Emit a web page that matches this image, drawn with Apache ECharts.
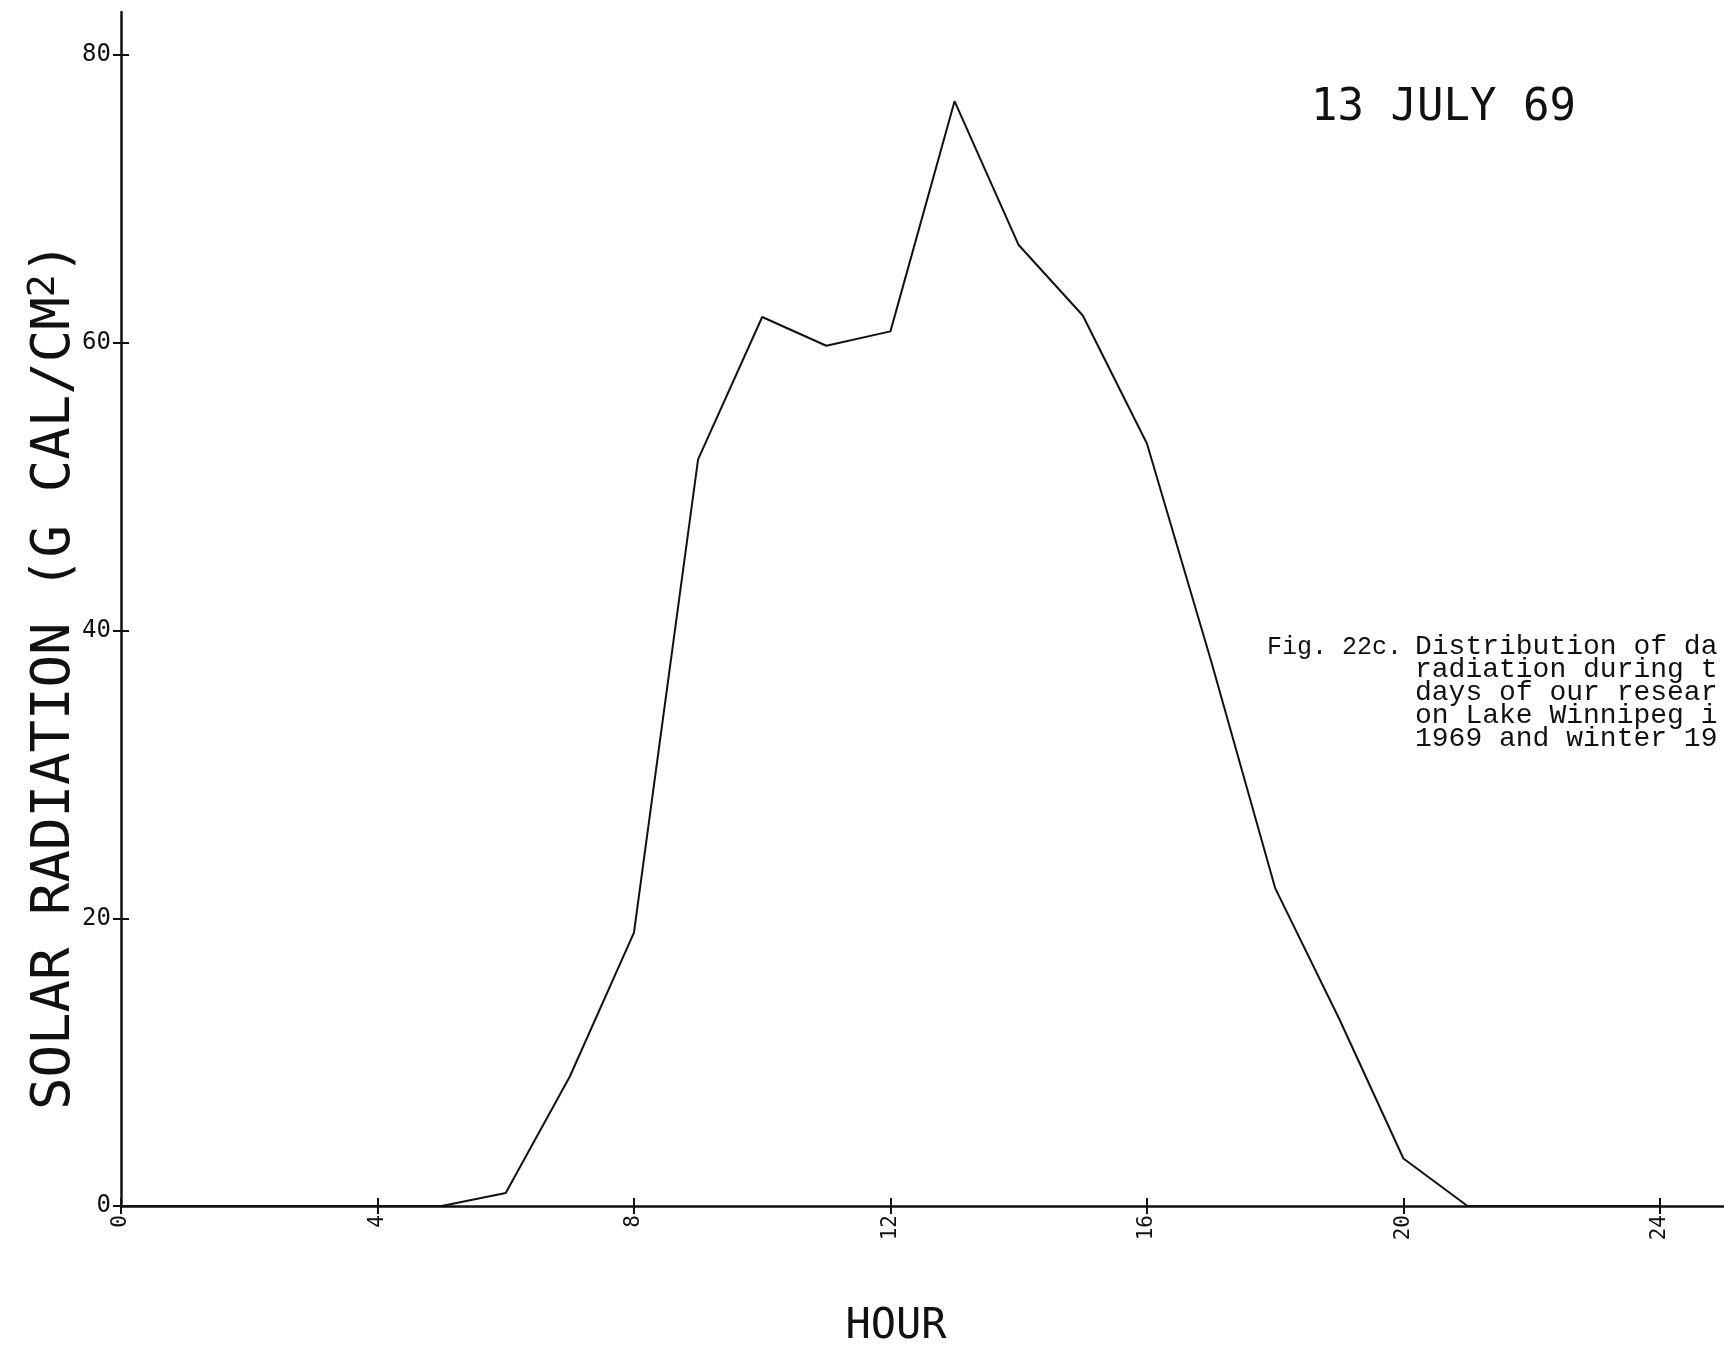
<!DOCTYPE html>
<html>
<head>
<meta charset="utf-8">
<script src="https://cdn.jsdelivr.net/npm/echarts@6/dist/echarts.min.js"></script>
<style>
html, body { margin: 0; padding: 0; background: #fff; }
#main { width: 1724px; height: 1347px; }
</style>
</head>
<body>
<div id="main"></div>
<script>
// hourly solar radiation, 13 July 1969 (g cal/cm2)
var hours = [0, 1, 2, 3, 4, 5, 6, 7, 8, 9, 10, 11, 12, 13, 14, 15, 16, 17, 18, 19, 20, 21, 22, 23, 24];
var radiation = [0, 0, 0, 0, 0, 0, 0.9, 9, 19, 51.9, 61.8, 59.8, 60.8, 76.8, 66.8, 61.9, 53.0, 37.9, 22.1, 13.0, 3.3, 0, 0, 0, 0];
var xTicks = [0, 4, 8, 12, 16, 20, 24];
var yTicks = [0, 20, 40, 60, 80];
var captionLines = [
    'Distribution of da',
    'radiation during t',
    'days of our resear',
    'on Lake Winnipeg i',
    '1969 and winter 19'
];

var plotFont = 'DejaVu Sans Mono';
var ink = '#111';

var myChart = echarts.init(document.getElementById('main'));
var points = hours.map(function (h, i) {
    return [h, radiation[i]];
});

var gridBox = { left: 121, right: 0, top: 12, bottom: 141, containLabel: false, outerBoundsMode: 'none' };
var tickStyle = { color: ink, width: 2 };

option = {
    backgroundColor: '#fff',
    animation: false,
    title: [
        {
            text: '13 JULY 69',
            left: 1306,
            top: 82,
            textStyle: { fontFamily: plotFont, fontSize: 44, fontWeight: 'normal', color: ink }
        },
        {
            text: 'Fig. 22c.',
            left: 1262,
            top: 630,
            textStyle: { fontFamily: 'Liberation Mono', fontSize: 25, fontWeight: 'normal', color: ink }
        },
        {
            text: captionLines.join('\n'),
            left: 1410,
            top: 630,
            textStyle: { fontFamily: 'Liberation Mono', fontSize: 28, fontWeight: 'normal', color: ink, lineHeight: 23 }
        }
    ],
    // second grid sits on top of the first one and only carries the inner half of the tick crosses
    grid: [gridBox, gridBox],
    xAxis: [
        {
            type: 'value',
            gridIndex: 0,
            min: 0,
            max: 25,
            position: 'bottom',
            axisLine: { onZero: false, lineStyle: { color: ink, width: 2.5 } },
            axisTick: { customValues: xTicks, length: 8, lineStyle: tickStyle },
            axisLabel: {
                customValues: xTicks,
                rotate: 90,
                margin: 9,
                fontFamily: plotFont,
                fontSize: 21,
                color: ink
            },
            splitLine: { show: false },
            name: 'HOUR',
            nameLocation: 'middle',
            nameGap: 100,
            nameMoveOverlap: false,
            nameTextStyle: { fontFamily: plotFont, fontSize: 42, color: ink, padding: [0, 53, 0, 0] }
        },
        {
            type: 'value',
            gridIndex: 1,
            min: 0,
            max: 25,
            position: 'bottom',
            axisLine: { show: false, onZero: false },
            axisTick: { inside: true, customValues: xTicks, length: 8, lineStyle: tickStyle },
            axisLabel: { show: false },
            splitLine: { show: false }
        }
    ],
    yAxis: [
        {
            type: 'value',
            gridIndex: 0,
            min: 0,
            max: 83,
            position: 'left',
            axisLine: { show: true, onZero: false, lineStyle: { color: ink, width: 2.5 } },
            axisTick: { show: true, customValues: yTicks, length: 8, lineStyle: tickStyle },
            axisLabel: {
                customValues: yTicks,
                margin: 10,
                fontFamily: plotFont,
                fontSize: 24,
                color: ink
            },
            splitLine: { show: false },
            name: '{t|SOLAR RADIATION (G CAL/CM}{s|2}{t|)}',
            nameLocation: 'middle',
            nameRotate: 90,
            nameGap: 36,
            nameMoveOverlap: false,
            nameTextStyle: {
                padding: [0, 134, 0, 0],
                rich: {
                    t: { fontFamily: plotFont, fontSize: 54, color: ink, lineHeight: 60 },
                    s: { fontFamily: plotFont, fontSize: 38, color: ink, lineHeight: 44, verticalAlign: 'top' }
                }
            }
        },
        {
            type: 'value',
            gridIndex: 1,
            min: 0,
            max: 83,
            position: 'left',
            axisLine: { show: false, onZero: false },
            axisTick: { show: true, inside: true, customValues: yTicks, length: 8, lineStyle: tickStyle },
            axisLabel: { show: false },
            splitLine: { show: false }
        }
    ],
    series: [
        {
            type: 'line',
            data: points,
            xAxisIndex: 0,
            yAxisIndex: 0,
            showSymbol: false,
            lineStyle: { color: ink, width: 2 }
        }
    ]
};
myChart.setOption(option);
</script>
</body>
</html>
